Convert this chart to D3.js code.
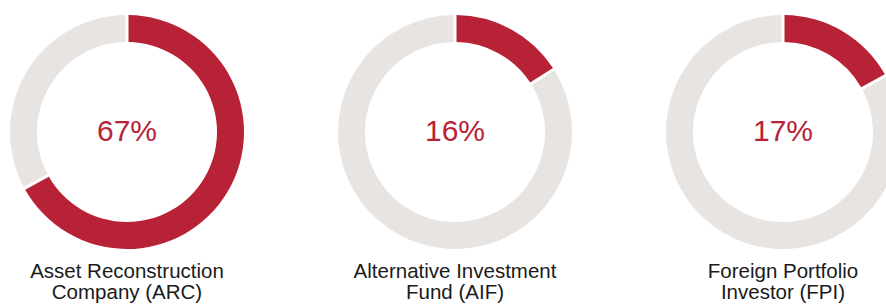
<!DOCTYPE html>
<html>
<head>
<meta charset="utf-8">
<script src="https://cdn.jsdelivr.net/npm/d3@7"></script>
<style>
  body { margin: 0; background: #fff; }
  svg { display: block; }
</style>
</head>
<body>
<div id="chart"></div>
<script>
// data
const categories = ["ARC", "AIF", "FPI"]
const shares = [67, 16, 17]
const labelLines = [
  ["Asset Reconstruction", "Company (ARC)"],
  ["Alternative Investment", "Fund (AIF)"],
  ["Foreign Portfolio", "Investor (FPI)"]
]

const width = 886
const height = 307
const outerR = 117
const innerR = 90
const cy = 132

const red = "#b82236"
const grey = "#e8e4e2"

const x = d3.scalePoint()
            .domain(categories)
            .range([127, 783])

const svg = d3.select("#chart")
  .append("svg")
  .attr("width", width)
  .attr("height", height)

const pie = d3.pie().sort(null).value(d => d)

const arc = d3.arc()
  .innerRadius(innerR)
  .outerRadius(outerR)
  .padAngle(3 / outerR)
  .padRadius(outerR)

const donuts = svg.selectAll("g.donut")
  .data(categories)
  .join("g")
  .attr("class", "donut")
  .attr("transform", d => "translate(" + x(d) + "," + cy + ")")

donuts.selectAll("path")
  .data((d, i) => pie([shares[i], 100 - shares[i]]))
  .join("path")
  .attr("d", arc)
  .attr("fill", (d, i) => i === 0 ? red : grey)

// big percentage in the middle
donuts.append("text")
  .attr("text-anchor", "middle")
  .attr("y", 9)
  .attr("fill", red)
  .style("font-family", "'Liberation Sans', Arial, sans-serif")
  .style("font-size", "30px")
  .text((d, i) => shares[i] + "%")

// labels below
const labels = svg.selectAll("text.label")
  .data(categories)
  .join("text")
  .attr("class", "label")
  .attr("text-anchor", "middle")
  .attr("fill", "#1a1a1a")
  .style("font-family", "'Liberation Sans', Arial, sans-serif")
  .style("font-size", "20.5px")

labels.selectAll("tspan")
  .data((d, i) => labelLines[i].map(t => ({ t: t, cx: x(d) })))
  .join("tspan")
  .attr("x", d => d.cx)
  .attr("y", (d, j) => 278 + j * 21)
  .text(d => d.t)
</script>
</body>
</html>
